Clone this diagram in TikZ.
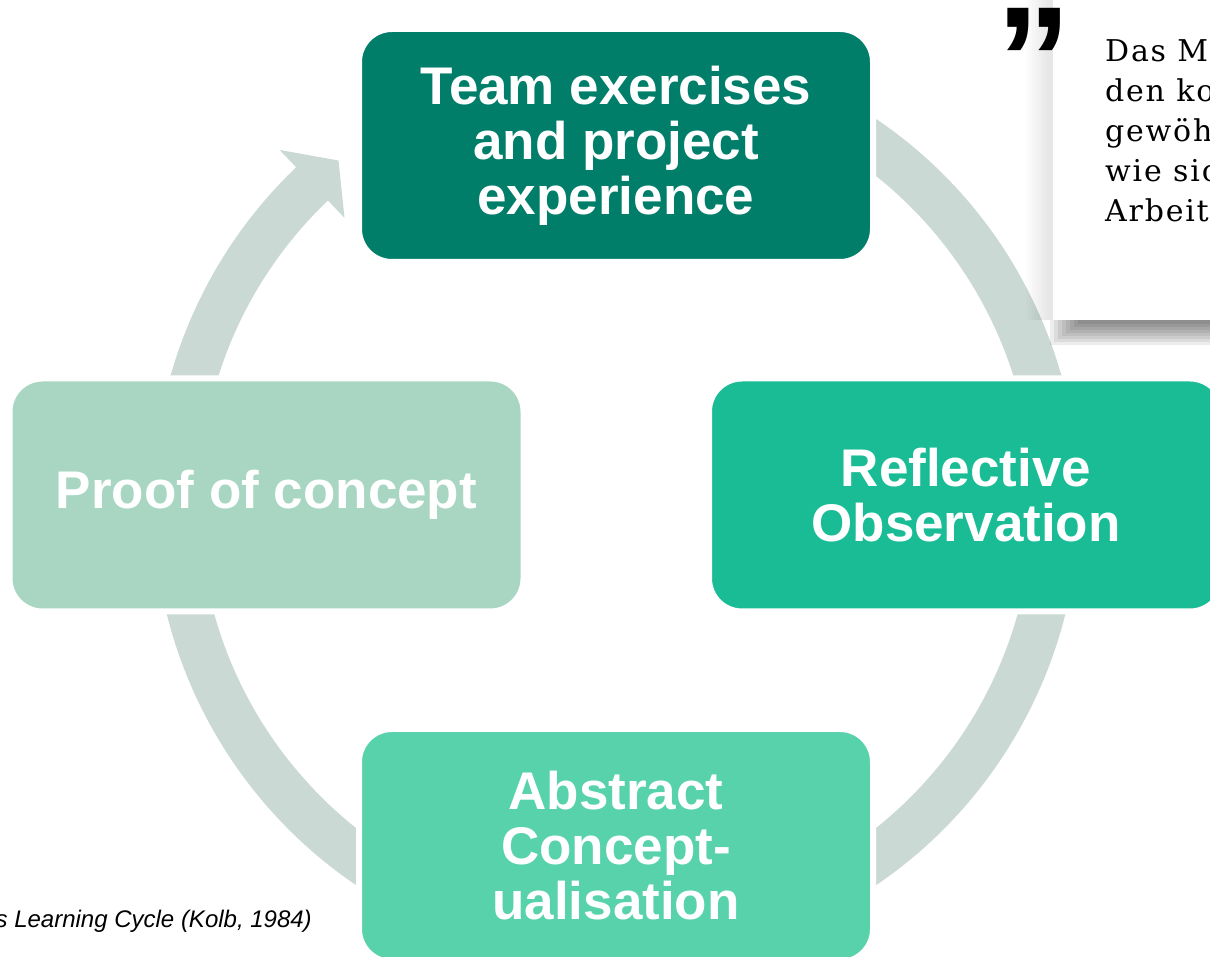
\documentclass[tikz,border=0pt]{standalone}
\usepackage{fontspec}
\setmainfont{Liberation Sans}
\newfontfamily\quotefont{DejaVu Serif}[LetterSpace=6]
\usepackage{tikz}
\usetikzlibrary{calc}
\definecolor{deepteal}{RGB}{0, 126, 106}
\definecolor{jadegreen}{RGB}{26, 188, 150}
\definecolor{mintgreen}{RGB}{88, 210, 171}
\definecolor{palegreen}{RGB}{168, 214, 195}
\definecolor{ringgrey}{RGB}{203, 217, 212}

\tikzset{
  stagebox/.style={rounded corners=33pt, minimum width=514pt, minimum height=233pt,
    inner sep=0pt, draw=white, line width=6pt, text=white, align=center,
    font=\fontsize{53}{55}\selectfont\bfseries}
}

\begin{document}
\begin{tikzpicture}[x=1pt, y=1pt]
\useasboundingbox (0,0) rectangle (1210,957);
\clip (0,0) rectangle (1210,957);
% grey ring with the arrow head, stages are drawn over it
\coordinate (hub) at (616,455);
\fill[ringgrey, shift={(hub)}] (60:463pt) arc[start angle=60, end angle=-226.3, radius=463pt]
  -- (133.7:487pt) -- (129.1:440pt) -- (133.7:393pt) -- (133.7:417pt)
  arc[start angle=133.7, end angle=420, radius=417pt] -- cycle;
% quote panel, soft shadow first
\foreach \s in {0,...,7} {
  \fill[black, opacity=0.07] (1050+4*\s,637) rectangle (1215,612+3*\s);
  \fill[black, opacity=0.012] (1026+3*\s,965) rectangle (1053,637);
}
\fill[white] (1053,637) rectangle (1215,965);
\node[anchor=base west, inner sep=0pt, font=\fontsize{150}{150}\selectfont\bfseries] (mark) at (996,845) {”};
\node[anchor=base west, inner sep=0pt, align=left, font=\fontsize{30}{40}\selectfont\quotefont] (quote) at (1105,735)
  {Das M\\den ko\\gewöh\\wie sic\\Arbeit};
% the four stages
\node[stagebox, fill=deepteal] (experience) at (616,811.5) {Team exercises\\and project\\experience};
\node[stagebox, fill=jadegreen] (observation) at (966,462) {Reflective\\Observation};
\node[stagebox, fill=mintgreen] (concept) at (616,111.5) {Abstract\\Concept-\\ualisation};
\node[stagebox, fill=palegreen] (proof) at (266.5,462) {Proof of concept};
\node[anchor=base east, inner sep=0pt, font=\fontsize{24}{28}\selectfont\itshape] (caption) at (312,29)
  {s Learning Cycle (Kolb, 1984)};
\end{tikzpicture}
\end{document}
